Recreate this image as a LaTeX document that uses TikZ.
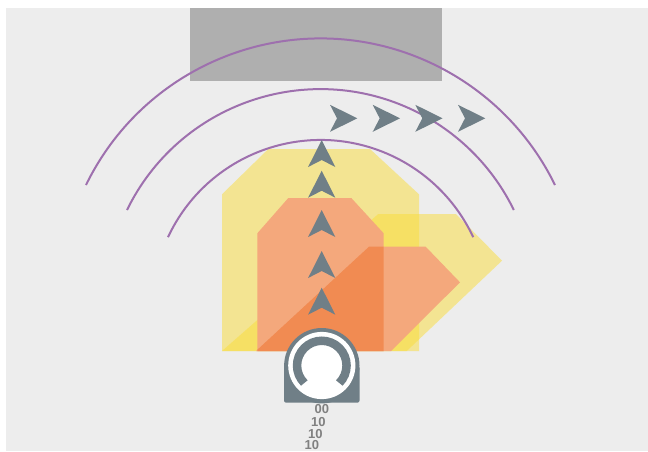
\documentclass[tikz,border=0pt]{standalone}
\usepackage{fontspec}
\setmainfont{Liberation Sans}
\usepackage{xcolor}
\usepackage{tikz}
\definecolor{panelgray}{RGB}{237, 237, 237}
\definecolor{wallgray}{RGB}{175, 175, 175}
\definecolor{robotslate}{RGB}{112, 127, 135}
\definecolor{rangepurple}{RGB}{158, 112, 174}
\definecolor{zoneyellow}{RGB}{250, 221, 56}
\definecolor{zoneorange}{RGB}{244, 168, 124}
\definecolor{zonedeep}{RGB}{241, 139, 82}

\begin{document}
\begin{tikzpicture}[x=1pt, y=-1pt,
    zoneA/.style={fill=zoneyellow, fill opacity=0.5},
    rangearc/.style={draw=rangepurple, line width=2pt},
    chevron/.style={fill=robotslate},
    bitlabel/.style={text=black!50, font=\fontsize{13}{13}\selectfont\bfseries, inner sep=0pt}]

    \useasboundingbox (0,0) rectangle (648,451);
    \fill[panelgray] (6,8) rectangle (648,451);
    \fill[wallgray] (190,8) rectangle (442,81);

    % Zones
    \fill[zoneA] (222,351) -- (222,194.3) -- (268.3,149) -- (370,149) -- (419,194.3) -- (419,351) -- cycle;
    \fill[zoneA] (222,351) -- (378.3,214) -- (456,214) -- (502,260.7) -- (406.7,351) -- cycle;
    \fill[zoneorange] (257.3,351) -- (257.3,233.3) -- (288.3,198) -- (351.3,198) -- (383.7,233.3) -- (383.7,351) -- cycle;
    \fill[zoneorange] (256,351) -- (369,246.7) -- (425.7,246.7) -- (460,282.3) -- (391,351) -- cycle;
    \begin{scope}
        \clip (257.3,351) -- (257.3,233.3) -- (288.3,198) -- (351.3,198) -- (383.7,233.3) -- (383.7,351) -- cycle;
        \fill[zonedeep] (256,351) -- (369,246.7) -- (425.7,246.7) -- (460,282.3) -- (391,351) -- cycle;
    \end{scope}

    % Range arcs
    \draw[rangearc] (168,237.2) arc[start angle=205, end angle=335, radius=168.4];
    \draw[rangearc] (127,210) arc[start angle=206, end angle=334, radius=215.2];
    \draw[rangearc] (86,185) arc[start angle=206, end angle=334, radius=260.9];

    % Chevrons
    \foreach \y in {140, 170.7, 210, 251, 287.7}
        \fill[chevron] (321.7,\y) -- ++(13.6,27) -- ++(-13.6,-7) -- ++(-13.6,7) -- cycle;
    \foreach \x in {330, 372.7, 415.3, 458}
        \fill[chevron] (\x+27.3,118.3) -- ++(-27.3,13.5) -- ++(7,-13.5) -- ++(-7,-13.5) -- cycle;

    % Robot
    \fill[robotslate, rounded corners=2pt] (284,366) rectangle (359.5,402.6);
    \fill[robotslate] (321.8,365.7) circle[radius=37.7];
    \fill[white] (321.8,365.5) circle[radius=33.6];
    \draw[robotslate, line width=8.5pt] (304.3,383) arc[start angle=135, end angle=405, radius=24.75];

    % Labels
    \node[bitlabel] (bit_a) at (321.8,409) {00};
    \node[bitlabel] (bit_b) at (318.3,422) {10};
    \node[bitlabel] (bit_c) at (315.3,433.8) {10};
    \node[bitlabel] (bit_d) at (311.8,444.6) {10};
\end{tikzpicture}
\end{document}
